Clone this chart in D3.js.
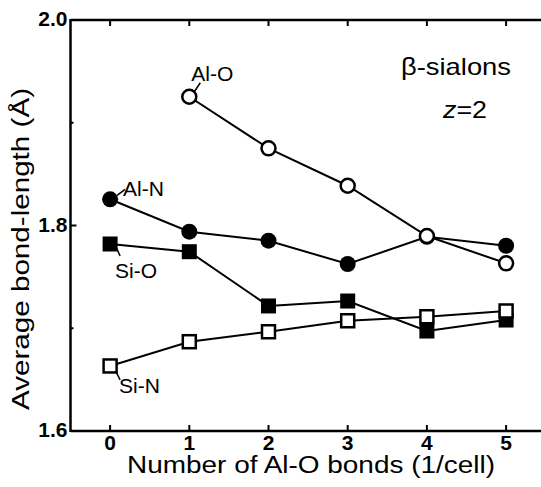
<!DOCTYPE html>
<html><head><meta charset="utf-8">
<script src="https://cdn.jsdelivr.net/npm/d3@7"></script>
<style>body{margin:0;background:#fff}svg{display:block}text{font-family:"Liberation Sans",Arial,sans-serif;fill:#000}</style>
</head><body><svg id="c" width="541" height="487"></svg>
<script>
const xValues = [0, 1, 2, 3, 4, 5];
const alN = [1.8255, 1.794, 1.7852, 1.7625, 1.789, 1.7803];
const siO = [1.782, 1.7745, 1.7217, 1.7265, 1.6973, 1.708];
const alO = [null, 1.9253, 1.8751, 1.8387, 1.7898, 1.7632];
const siN = [1.6633, 1.6869, 1.6966, 1.7073, 1.7112, 1.7168];
const xTicks = [0, 1, 2, 3, 4, 5];
const yTicks = [1.6, 1.8, 2.0];
const yMinor = [1.7, 1.9];

const svg = d3.select("#c");
const x = d3.scaleLinear().domain([-0.5, 5.5]).range([70.5, 545.7]);
const y = d3.scaleLinear().domain([1.6, 2.0]).range([431, 20]);

// frame
svg.append("line").attr("x1", x(-0.5)).attr("x2", x(5.5)).attr("y1", y(1.6)).attr("y2", y(1.6)).attr("stroke", "#000").attr("stroke-width", 2.5);
svg.append("line").attr("x1", x(-0.5)).attr("x2", x(5.5)).attr("y1", y(2.0)).attr("y2", y(2.0)).attr("stroke", "#000").attr("stroke-width", 2.5);
svg.append("line").attr("x1", x(-0.5)).attr("x2", x(-0.5)).attr("y1", y(1.6) + 1).attr("y2", y(2.0) - 1).attr("stroke", "#000").attr("stroke-width", 2.5);

// x ticks
xTicks.forEach(t => {
  svg.append("line").attr("x1", x(t)).attr("x2", x(t)).attr("y1", y(1.6)).attr("y2", y(1.6) - 6).attr("stroke", "#000").attr("stroke-width", 2);
  svg.append("line").attr("x1", x(t)).attr("x2", x(t)).attr("y1", y(2.0)).attr("y2", y(2.0) + 6).attr("stroke", "#000").attr("stroke-width", 2);
  svg.append("text").attr("x", x(t)).attr("y", y(1.6) + 19).attr("text-anchor", "middle")
    .style("font-size", "21px").style("font-weight", "bold").text(t);
});
// y ticks
yTicks.forEach(t => {
  svg.append("line").attr("x1", x(-0.5)).attr("x2", x(-0.5) + 6).attr("y1", y(t)).attr("y2", y(t)).attr("stroke", "#000").attr("stroke-width", 2);
  svg.append("text").attr("x", x(-0.5) - 3).attr("y", y(t) + 6).attr("text-anchor", "end")
    .style("font-size", "21px").style("font-weight", "bold").text(t.toFixed(1));
});
yMinor.forEach(t => {
  svg.append("line").attr("x1", x(-0.5)).attr("x2", x(-0.5) + 3).attr("y1", y(t)).attr("y2", y(t)).attr("stroke", "#000").attr("stroke-width", 2);
});

// axis titles
svg.append("text").attr("x", 311).attr("y", 473).attr("text-anchor", "middle")
  .style("font-size", "23px").attr("textLength", 368).attr("lengthAdjust", "spacingAndGlyphs")
  .text("Number of Al-O bonds (1/cell)");
svg.append("text").attr("transform", "translate(29,249) rotate(-90)").attr("text-anchor", "middle")
  .style("font-size", "23px").attr("textLength", 322).attr("lengthAdjust", "spacingAndGlyphs")
  .text("Average bond-length (Å)");

// lines
const series = [
  {v: alN, shape: "circle", filled: true},
  {v: siO, shape: "square", filled: true},
  {v: alO, shape: "circle", filled: false},
  {v: siN, shape: "square", filled: false}
];
const line = d3.line().defined(d => d[1] != null).x(d => x(d[0])).y(d => y(d[1]));
series.forEach(s => {
  svg.append("path").datum(xValues.map((xv, i) => [xv, s.v[i]]))
    .attr("d", line).attr("fill", "none").attr("stroke", "#000").attr("stroke-width", 2);
});
series.forEach(s => {
  const pts = xValues.map((xv, i) => [xv, s.v[i]]).filter(d => d[1] != null);
  const g = svg.append("g");
  if (s.shape === "circle") {
    g.selectAll("circle").data(pts).join("circle")
      .attr("cx", d => x(d[0])).attr("cy", d => y(d[1]))
      .attr("r", s.filled ? 8 : 7)
      .attr("fill", s.filled ? "#000" : "#fff").attr("stroke", "#000").attr("stroke-width", s.filled ? 0 : 2.5);
  } else {
    const sz = s.filled ? 15 : 13;
    g.selectAll("rect").data(pts).join("rect")
      .attr("x", d => x(d[0]) - sz / 2).attr("y", d => y(d[1]) - sz / 2)
      .attr("width", sz).attr("height", sz)
      .attr("fill", s.filled ? "#000" : "#fff").attr("stroke", "#000").attr("stroke-width", s.filled ? 0 : 2.5);
  }
});

// labels with leader lines
const labels = [
  {t: "Al-O", xi: 1, v: alO, l: [5, -5, 11, -14], tx: 2, ty: -16},
  {t: "Al-N", xi: 0, v: alN, l: [7, -4, 15, -10], tx: 13, ty: -3},
  {t: "Si-O", xi: 0, v: siO, l: [6, 3, 10, 12], tx: 5, ty: 34},
  {t: "Si-N", xi: 0, v: siN, l: [6, 6, 10, 14], tx: 9, ty: 27}
];
labels.forEach(L => {
  const px = x(L.xi), py = y(L.v[L.xi]);
  svg.append("line").attr("x1", px + L.l[0]).attr("y1", py + L.l[1]).attr("x2", px + L.l[2]).attr("y2", py + L.l[3])
    .attr("stroke", "#000").attr("stroke-width", 1.5);
  svg.append("text").attr("x", px + L.tx).attr("y", py + L.ty).style("font-size", "21px").text(L.t);
});

svg.append("text").attr("x", 401).attr("y", 75).style("font-size", "24px")
  .attr("textLength", 110).attr("lengthAdjust", "spacingAndGlyphs").text("β-sialons");
const z = svg.append("text").attr("x", 443).attr("y", 118).style("font-size", "24px")
  .attr("textLength", 44).attr("lengthAdjust", "spacingAndGlyphs");
z.append("tspan").style("font-style", "italic").text("z");
z.append("tspan").text("=2");
</script></body></html>
